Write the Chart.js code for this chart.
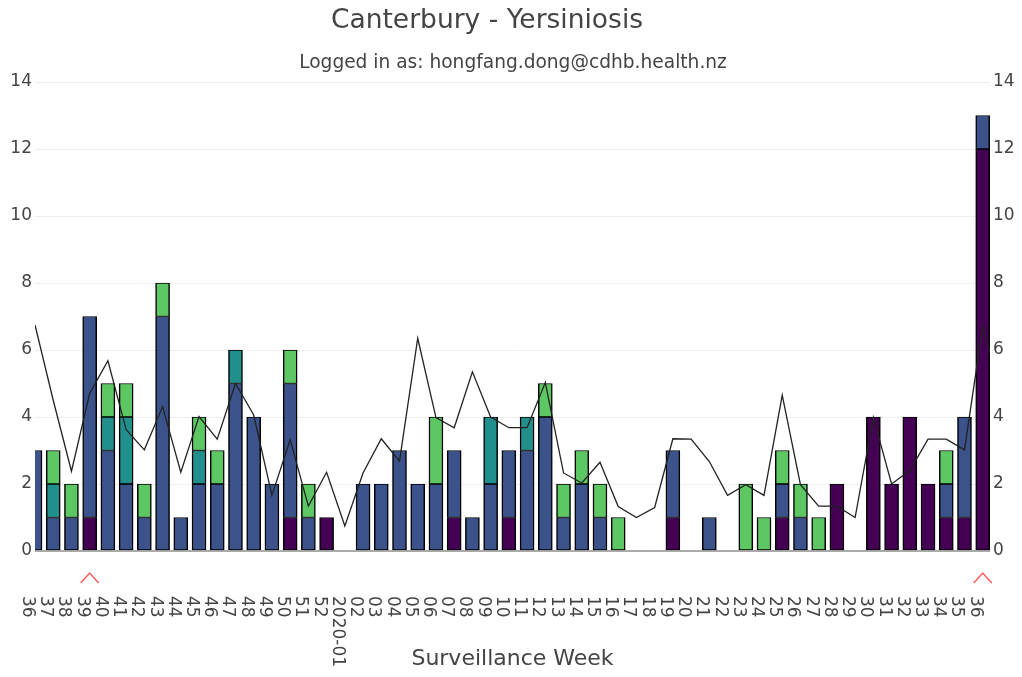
<!DOCTYPE html>
<html>
<head>
<meta charset="utf-8">
<script src="https://cdn.jsdelivr.net/npm/chart.js@4.4.0/dist/chart.umd.min.js"></script>
<style>
  html,body{margin:0;padding:0;background:#fff;}
  #wrap{width:1022px;height:677px;position:relative;}
</style>
</head>
<body>
<div id="wrap"><canvas id="c"></canvas></div>
<script>
// surveillance weeks, 2019-36 .. 2020-36
const weeks = ['36','37','38','39','40','41','42','43','44','45','46','47','48','49','50','51','52',
  '2020-01','02','03','04','05','06','07','08','09','10','11','12','13','14','15','16','17','18','19',
  '20','21','22','23','24','25','26','27','28','29','30','31','32','33','34','35','36'];

// stacked case counts, bottom to top
const casesDark  = [0,0,0,1,0,0,0,0,0,0,0,0,0,0,1,0,1,0,0,0,0,0,0,1,0,0,1,0,0,0,0,0,0,0,0,1,0,0,0,0,0,1,0,0,2,0,4,2,4,2,1,1,12];
const casesBlue  = [3,1,1,6,3,2,1,7,1,2,2,5,4,2,4,1,0,0,2,2,3,2,2,2,1,2,2,3,4,1,2,1,0,0,0,2,0,1,0,0,0,1,1,0,0,0,0,0,0,0,1,3,1];
const casesTeal  = [0,1,0,0,1,2,0,0,0,1,0,1,0,0,0,0,0,0,0,0,0,0,0,0,0,2,0,1,0,0,0,0,0,0,0,0,0,0,0,0,0,0,0,0,0,0,0,0,0,0,0,0,0];
const casesGreen = [0,1,1,0,1,1,1,1,0,1,1,0,0,0,1,1,0,0,0,0,0,0,2,0,0,0,0,0,1,1,1,1,1,0,0,0,0,0,0,2,1,1,1,1,0,0,0,0,0,0,1,0,0];

// historical average line (last point runs past the plot edge)
const baseline = [6.75,4.5,2.38,4.7,5.68,3.62,3.02,4.31,2.35,4.01,3.34,5.0,4.06,1.66,3.32,1.34,2.35,0.75,
  2.33,3.35,2.68,6.35,3.98,3.68,5.35,4.0,3.68,3.68,5.03,2.33,2.03,2.65,1.33,1.0,1.3,3.35,
  3.34,2.67,1.66,1.98,1.66,4.65,1.98,1.34,1.34,1.0,3.99,2.0,2.4,3.34,3.34,3.02,6.7,4.8];

const markedWeeks = [3, 52];
const yTicks = [0,2,4,6,8,10,12,14];

const FONT = 'DejaVu Sans';
const TXT = '#444';

const toPts = arr => arr.map((v,i)=>({x:i, y:v ? v : null}));
const barSet = (data,color) => ({
  type:'bar', data:toPts(data), backgroundColor:color, borderColor:'#000',
  borderWidth:{top:1,bottom:1,left:1.5,right:1.5},
  borderSkipped:false, barThickness:14, stack:'cases', order:1, clip:0
});

const overlay = {
  id:'overlay',
  afterDraw(chart){
    const ctx = chart.ctx, xs = chart.scales.x, bottom = chart.chartArea.bottom;
    ctx.save();
    // rotated week labels
    ctx.font = '17px "'+FONT+'"';
    ctx.fillStyle = TXT;
    ctx.textAlign = 'left';
    ctx.textBaseline = 'alphabetic';
    weeks.forEach((w,i)=>{
      const x = xs.getPixelForValue(i);
      ctx.save();
      ctx.translate(x-12, bottom+45);
      ctx.rotate(Math.PI/2);
      ctx.fillText(w,0,0);
      ctx.restore();
    });
    // red markers
    ctx.strokeStyle = '#ff5c5c';
    ctx.lineWidth = 1.5;
    markedWeeks.forEach(i=>{
      const x = xs.getPixelForValue(i), y = bottom+27;
      ctx.beginPath();
      ctx.moveTo(x-9,y+5); ctx.lineTo(x,y-5); ctx.lineTo(x+9,y+5);
      ctx.stroke();
    });
    // titles
    ctx.textAlign = 'center';
    ctx.fillStyle = TXT;
    ctx.font = '26.5px "'+FONT+'"';
    ctx.fillText('Canterbury - Yersiniosis', 487, 28);
    ctx.font = '18.6px "'+FONT+'"';
    ctx.fillText('Logged in as: hongfang.dong@cdhb.health.nz', 513, 68);
    ctx.restore();
  }
};

const yTickOpts = {stepSize:2, color:TXT, font:{family:FONT, size:17}, padding:3};

new Chart(document.getElementById('c'), {
  data:{
    datasets:[
      barSet(casesDark,'#440154'),
      barSet(casesBlue,'#3b528b'),
      barSet(casesTeal,'#21908d'),
      barSet(casesGreen,'#5dc863'),
      {type:'line', data:baseline.map((v,i)=>({x:i,y:v})), borderColor:'#222', borderWidth:1.3,
       pointRadius:0, tension:0, fill:false, stack:'line', order:0}
    ]
  },
  options:{
    responsive:true, maintainAspectRatio:false, animation:false, devicePixelRatio:1,
    layout:{padding:{top:82,left:0,right:0,bottom:0}},
    plugins:{legend:{display:false}, tooltip:{enabled:false}},
    scales:{
      x:{type:'linear', min:0, max:52.4, stacked:true, offset:false,
        ticks:{display:false, stepSize:1}, grid:{display:false}, border:{display:false},
        title:{display:true, text:'Surveillance Week', color:TXT, font:{family:FONT, size:22}, padding:{top:0,bottom:5}},
        afterFit(s){s.height=126;}},
      y:{position:'left', stacked:true, min:0, max:14,
        afterBuildTicks(s){s.ticks = yTicks.map(v=>({value:v}));},
        ticks:yTickOpts,
        grid:{color:c=>c.tick && c.tick.value===0 ? '#aaa' : '#eee', lineWidth:c=>c.tick && c.tick.value===0 ? 2 : 1, drawTicks:false},
        border:{display:false},
        afterFit(s){s.width=35;}},
      y2:{position:'right', min:0, max:14,
        afterBuildTicks(s){s.ticks = yTicks.map(v=>({value:v}));},
        ticks:yTickOpts, grid:{display:false, drawTicks:false}, border:{display:false},
        afterFit(s){s.width=32;}}
    }
  },
  plugins:[overlay]
});
</script>
</body>
</html>
